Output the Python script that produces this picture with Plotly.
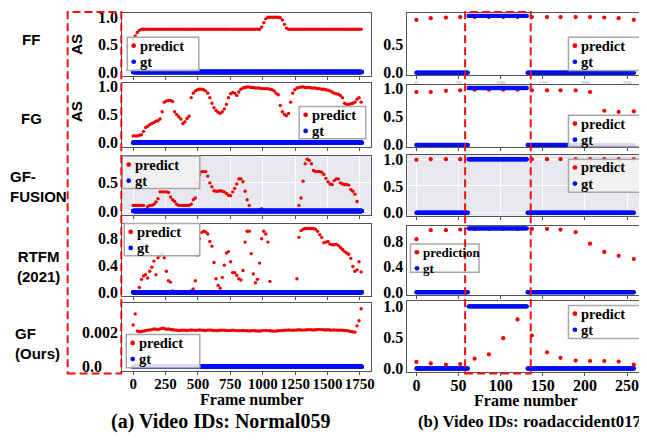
import plotly.graph_objects as go

# page offset of the plot div inside the browser window (default body margin)
OFF = 8
W, H = 647 - OFF, 441 - OFF

# ---------------- data: (a) Normal059 ----------------
FRAMES_A = list(range(0, 1761, 16))          # sampled frame numbers of the predictions
GT_A_LAST_FRAME = 1765

FF_A = [0.60, 0.66, 0.72, 0.76, 0.78, 0.78, 0.78, 0.78, 0.78, 0.78,
        0.78, 0.78, 0.78, 0.78, 0.78, 0.78, 0.78, 0.78, 0.78, 0.78,
        0.78, 0.78, 0.78, 0.78, 0.78, 0.78, 0.78, 0.78, 0.78, 0.78,
        0.78, 0.78, 0.78, 0.78, 0.78, 0.78, 0.78, 0.78, 0.78, 0.78,
        0.78, 0.78, 0.78, 0.78, 0.78, 0.78, 0.78, 0.78, 0.78, 0.78,
        0.78, 0.78, 0.78, 0.78, 0.78, 0.78, 0.78, 0.78, 0.78, 0.78,
        0.78, 0.78, 0.82, 0.90, 0.97, 1.00, 1.00, 1.00, 1.00, 1.00,
        1.00, 0.99, 0.95, 0.87, 0.80, 0.78, 0.78, 0.78, 0.78, 0.78,
        0.78, 0.78, 0.78, 0.78, 0.78, 0.78, 0.78, 0.78, 0.78, 0.78,
        0.78, 0.78, 0.78, 0.78, 0.78, 0.78, 0.78, 0.78, 0.78, 0.78,
        0.78, 0.78, 0.78, 0.78, 0.78, 0.78, 0.78, 0.78, 0.78, 0.78,
        0.78]

FG_A = [0.12, 0.12, 0.12, 0.13, 0.14, 0.20, 0.27, 0.29, 0.32, 0.34,
        0.36, 0.38, 0.39, 0.42, 0.55, 0.72, 0.74, 0.75, 0.75, 0.73,
        0.55, 0.50, 0.46, 0.42, 0.34, 0.37, 0.43, 0.47, 0.80, 0.88,
        0.92, 0.94, 0.95, 0.95, 0.94, 0.92, 0.88, 0.80, 0.70, 0.62,
        0.57, 0.54, 0.52, 0.55, 0.60, 0.68, 0.80, 0.87, 0.89, 0.88,
        0.84, 0.90, 0.95, 0.97, 0.98, 0.99, 0.99, 0.98, 0.98, 0.97,
        0.97, 0.97, 0.96, 0.96, 0.96, 0.96, 0.95, 0.94, 0.92, 0.88,
        0.85, 0.66, 0.55, 0.50, 0.48, 0.52, 0.72, 0.88, 0.94, 0.97,
        0.98, 0.99, 0.99, 0.98, 0.98, 0.98, 0.97, 0.97, 0.97, 0.96,
        0.96, 0.95, 0.95, 0.94, 0.93, 0.92, 0.90, 0.88, 0.87, 0.86,
        0.84, 0.80, 0.70, 0.68, 0.68, 0.69, 0.70, 0.72, 0.77, 0.80,
        0.72]

FUSION_A = [0.10, 0.10, 0.10, 0.10, 0.10, 0.10, 0.03, 0.08, 0.10, 0.10,
            0.12, 0.16, 0.22, 0.34, 0.34, 0.34, 0.34, 0.33, 0.25, 0.20,
            0.17, 0.12, 0.10, 0.10, 0.10, 0.10, 0.10, 0.10, 0.12, 0.20,
            0.23, 0.50, 0.65, 0.70, 0.70, 0.70, 0.62, 0.50, 0.43, 0.36,
            0.35, 0.35, 0.36, 0.35, 0.34, 0.31, 0.28, 0.27, 0.34, 0.40,
            0.48, 0.57, 0.57, 0.52, 0.35, 0.20, 0.10, 0.00, 0.00, 0.00,
            0.00, 0.03, 0.04, 0.02, 0.00, 0.00, 0.00, 0.00, 0.00, 0.00,
            0.00, 0.00, 0.00, 0.00, 0.00, 0.00, 0.00, 0.00, 0.00, 0.00,
            0.10, 0.23, 0.53, 0.84, 0.92, 0.90, 0.84, 0.72, 0.70, 0.70,
            0.70, 0.69, 0.65, 0.58, 0.52, 0.48, 0.47, 0.54, 0.57, 0.57,
            0.50, 0.48, 0.47, 0.47, 0.46, 0.38, 0.35, 0.30, 0.17, 0.00,
            0.00]

RTFM_A = [0.00, 0.00, 0.00, 0.07, 0.19, 0.24, 0.26, 0.21, 0.31, 0.37,
          0.46, 0.26, 0.51, 0.55, 0.57, 0.51, 0.31, 0.17, 0.15, 0.02,
          0.00, 0.00, 0.00, 0.00, 0.00, 0.00, 0.00, 0.00, 0.02, 0.05,
          0.17, 0.55, 0.79, 0.88, 0.90, 0.89, 0.86, 0.75, 0.68, 0.44,
          0.20, 0.10, 0.06, 0.22, 0.40, 0.58, 0.60, 0.45, 0.29, 0.29,
          0.25, 0.20, 0.18, 0.32, 0.74, 0.90, 0.90, 0.57, 0.27, 0.14,
          0.19, 0.43, 0.79, 0.90, 0.86, 0.74, 0.16, 0.00, 0.00, 0.00,
          0.00, 0.00, 0.00, 0.00, 0.00, 0.00, 0.00, 0.00, 0.00, 0.20,
          0.81, 0.91, 0.93, 0.94, 0.94, 0.94, 0.94, 0.94, 0.93, 0.90,
          0.85, 0.81, 0.73, 0.74, 0.75, 0.71, 0.70, 0.70, 0.71, 0.69,
          0.66, 0.63, 0.60, 0.58, 0.56, 0.50, 0.38, 0.31, 0.33, 0.45,
          0.30]

GF_A = [0.00245, 0.00310, 0.00210, 0.00205, 0.00207, 0.00210, 0.00212, 0.00215, 0.00216, 0.00218,
        0.00222, 0.00220, 0.00218, 0.00222, 0.00226, 0.00224, 0.00220, 0.00222, 0.00219, 0.00217,
        0.00216, 0.00214, 0.00213, 0.00214, 0.00215, 0.00214, 0.00213, 0.00215, 0.00216, 0.00215,
        0.00214, 0.00215, 0.00216, 0.00215, 0.00214, 0.00213, 0.00215, 0.00216, 0.00214, 0.00213,
        0.00212, 0.00213, 0.00214, 0.00215, 0.00214, 0.00213, 0.00212, 0.00213, 0.00214, 0.00213,
        0.00212, 0.00211, 0.00212, 0.00213, 0.00212, 0.00211, 0.00210, 0.00211, 0.00212, 0.00211,
        0.00210, 0.00210, 0.00211, 0.00212, 0.00213, 0.00212, 0.00211, 0.00210, 0.00209, 0.00210,
        0.00211, 0.00212, 0.00213, 0.00214, 0.00215, 0.00216, 0.00215, 0.00214, 0.00215, 0.00216,
        0.00217, 0.00216, 0.00215, 0.00216, 0.00217, 0.00218, 0.00217, 0.00216, 0.00217, 0.00218,
        0.00219, 0.00218, 0.00217, 0.00216, 0.00217, 0.00216, 0.00215, 0.00216, 0.00215, 0.00214,
        0.00215, 0.00214, 0.00213, 0.00212, 0.00210, 0.00207, 0.00205, 0.00203, 0.00240, 0.00270,
        0.00340]

# ---------------- data: (b) roadaccident017 ----------------
FRAMES_B = [0, 17, 35, 52, 69, 86, 103, 120, 137, 155, 171, 189, 206, 223, 240, 258]
GT_B_LAST_FRAME = 258
GT_B_ANOMALY = (62, 131)       # first / last anomalous frame

FF_B = [0.93, 0.96, 0.97, 0.98, 0.98, 0.98, 0.98, 0.98, 0.98, 0.98, 0.98, 0.98, 0.98, 0.97, 0.96, 0.93]
FG_B = [0.93, 0.93, 0.95, 0.96, 0.97, 0.97, 0.97, 0.97, 0.96, 0.96, 0.96, 0.96, 0.93, 0.60, 0.58, 0.59]
FUSION_B = [0.99, 1.00, 1.00, 1.00, 1.00, 1.00, 1.00, 1.00, 1.00, 1.00, 1.00, 1.00, 1.00, 1.00, 1.00, 1.00]
RTFM_B = [0.83, 0.97, 0.97, 0.98, 0.99, 0.99, 0.99, 0.99, 0.99, 0.99, 0.98, 0.94, 0.76, 0.63, 0.57, 0.52]
GF_B = [0.105, 0.08, 0.06, 0.07, 0.157, 0.225, 0.487, 0.79, 0.53, 0.26, 0.17, 0.126, 0.12, 0.12, 0.11, 0.06]

ROW_NAMES = ["FF", "FG", "GF-<br>FUSION", "RTFM<br>(2021)", "GF<br>(Ours)"]
XTICKS_A = [0, 250, 500, 750, 1000, 1250, 1500, 1750]
XTICKS_B = [0, 50, 100, 150, 200, 250]
YTICKS_STD = [0.0, 0.5, 1.0]
YTEXT_STD = ["0.0", "0.5", "1.0"]
YTICKS_FUSION_A = [0.0, 0.5]
YTEXT_FUSION_A = ["0.0", "0.5"]
YTICKS_RTFM = [0.0, 0.4, 0.8]
YTEXT_RTFM = ["0.0", "0.4", "0.8"]
YTICKS_GF_A = [0.0, 0.002]
YTEXT_GF_A = ["0.0\u00a0\u00a0\u00a0\u00a0", "0.002"]
LEGEND_PRED_B = ["predict", "predict", "predict", "prediction", "predict"]
CAPTION_A = "(a) Video IDs: Normal059"
CAPTION_B = "(b) Video IDs: roadaccident017"

# ---------------- derived series ----------------
GT_A_X = list(range(0, GT_A_LAST_FRAME + 1))
GT_A_Y = [0 for _ in GT_A_X]
GT_B_X = list(range(0, GT_B_LAST_FRAME + 1))
GT_B_Y = [1 if GT_B_ANOMALY[0] <= f <= GT_B_ANOMALY[1] else 0 for f in GT_B_X]

RED = "#f00000"
BLUE = "#0010f0"
DASH_RED = "#f01010"
SERIF = "Liberation Serif"
SANS = "Liberation Sans"


def X(x):
    """window pixel x -> paper x"""
    return (x - OFF) / W


def Y(y):
    """window pixel y -> paper y"""
    return 1 - (y - OFF) / H


def clamp(v):
    return min(1.0, max(0.0, v))


# panel geometry (window pixels)
panels = [
    # left column
    dict(x=FRAMES_A, y=FF_A, gx=GT_A_X, gy=GT_A_Y, l=123, r=373, t=8, b=73, xr=[-84, 1834],
         yr=[-0.08, 1.077], yt=YTICKS_STD, ytt=YTEXT_STD, xt=XTICKS_A, gray=False, ms=3.4, bottom=False,
         leg=(128, 33, 200, 67), pred="predict"),
    dict(x=FRAMES_A, y=FG_A, gx=GT_A_X, gy=GT_A_Y, l=123, r=373, t=80, b=145, xr=[-84, 1834],
         yr=[-0.069, 1.057], yt=YTICKS_STD, ytt=YTEXT_STD, xt=XTICKS_A, gray=False, ms=3.4, bottom=False,
         leg=(301, 104, 368, 137), pred="predict"),
    dict(x=FRAMES_A, y=FUSION_A, gx=GT_A_X, gy=GT_A_Y, l=123, r=373, t=155, b=215, xr=[-84, 1834],
         yr=[-0.066, 0.972], yt=YTICKS_FUSION_A, ytt=YTEXT_FUSION_A, xt=XTICKS_A, gray=True, ms=3.4, bottom=False,
         leg=(123, 155, 201, 188), pred="predict"),
    dict(x=FRAMES_A, y=RTFM_A, gx=GT_A_X, gy=GT_A_Y, l=123, r=373, t=225, b=298, xr=[-84, 1834],
         yr=[-0.05, 1.0], yt=YTICKS_RTFM, ytt=YTEXT_RTFM, xt=XTICKS_A, gray=False, ms=3.4, bottom=False,
         leg=(125, 224, 201, 257), pred="predict"),
    dict(x=FRAMES_A, y=GF_A, gx=GT_A_X, gy=GT_A_Y, l=123, r=373, t=306, b=375, xr=[-84, 1834],
         yr=[-0.000229, 0.003714], yt=YTICKS_GF_A, ytt=YTEXT_GF_A, xt=XTICKS_A, gray=False, ms=3.4, bottom=True,
         leg=(127, 338, 201, 372), pred="predict"),
    # right column
    dict(x=FRAMES_B, y=FF_B, gx=GT_B_X, gy=GT_B_Y, l=410, r=646, t=8, b=72, xr=[-10.6, 267.7],
         yr=[-0.048, 1.051], yt=YTICKS_STD, ytt=YTEXT_STD, xt=XTICKS_B, gray=False, ms=4.2, bottom=False,
         leg=(572, 33, 646, 67), pred=LEGEND_PRED_B[0], faint=True),
    dict(x=FRAMES_B, y=FG_B, gx=GT_B_X, gy=GT_B_Y, l=410, r=646, t=82, b=146, xr=[-10.6, 267.7],
         yr=[-0.046, 1.051], yt=YTICKS_STD, ytt=YTEXT_STD, xt=XTICKS_B, gray=False, ms=4.2, bottom=False,
         leg=(572, 113, 646, 145), pred=LEGEND_PRED_B[1]),
    dict(x=FRAMES_B, y=FUSION_B, gx=GT_B_X, gy=GT_B_Y, l=410, r=646, t=154, b=216, xr=[-10.6, 267.7],
         yr=[-0.055, 1.073], yt=YTICKS_STD, ytt=YTEXT_STD, xt=XTICKS_B, gray=True, ms=4.2, bottom=False,
         leg=(572, 158, 646, 192), pred=LEGEND_PRED_B[2]),
    dict(x=FRAMES_B, y=RTFM_B, gx=GT_B_X, gy=GT_B_Y, l=410, r=646, t=227, b=297, xr=[-10.6, 267.7],
         yr=[-0.038, 1.029], yt=YTICKS_RTFM, ytt=YTEXT_RTFM, xt=XTICKS_B, gray=False, ms=4.2, bottom=False,
         leg=(413, 245, 482, 274), pred=LEGEND_PRED_B[3]),
    dict(x=FRAMES_B, y=GF_B, gx=GT_B_X, gy=GT_B_Y, l=410, r=646, t=303, b=376, xr=[-10.6, 267.7],
         yr=[-0.052, 1.094], yt=YTICKS_STD, ytt=YTEXT_STD, xt=XTICKS_B, gray=False, ms=4.2, bottom=True,
         leg=(572, 308, 646, 342), pred=LEGEND_PRED_B[4]),
]

fig = go.Figure()
layout = dict(width=W, height=H, margin=dict(l=0, r=0, t=0, b=0, pad=0),
              paper_bgcolor="white", plot_bgcolor="rgba(0,0,0,0)", showlegend=False)
shapes = []
annotations = []

for k, p in enumerate(panels, start=1):
    sfx = "" if k == 1 else str(k)
    xa, ya = "x" + sfx, "y" + sfx
    fig.add_trace(go.Scatter(x=p["x"], y=p["y"], mode="markers", xaxis=xa, yaxis=ya,
                             marker=dict(color=RED, size=p["ms"], line=dict(width=0)),
                             hoverinfo="skip", showlegend=False))
    fig.add_trace(go.Scatter(x=p["gx"], y=p["gy"], mode="markers", xaxis=xa, yaxis=ya,
                             marker=dict(color=BLUE, size=4.4, line=dict(width=0)),
                             hoverinfo="skip", showlegend=False))
    left = p["l"] < 300
    faint = p.get("faint", False)
    if p["bottom"]:
        xfont = dict(family=SERIF, size=15 if left else 16, color="black", weight="bold")
    else:
        xfont = dict(family=SERIF, size=6, color="#9a9a9a")
    layout["xaxis" + sfx] = dict(
        domain=[clamp(X(p["l"])), clamp(X(p["r"]))], range=p["xr"], anchor=ya,
        showline=True, mirror=True, linecolor="#555", linewidth=1,
        ticks="outside", ticklen=3, tickcolor="#555", tickvals=p["xt"],
        showticklabels=p["bottom"] or faint, ticklabelstandoff=-4 if p["bottom"] else -2,
        tickfont=xfont,
        showgrid=p["gray"], gridcolor="white", gridwidth=1, zeroline=False, fixedrange=True)
    layout["yaxis" + sfx] = dict(
        domain=[clamp(Y(p["b"])), clamp(Y(p["t"]))], range=p["yr"], anchor=xa,
        showline=True, mirror=True, linecolor="#555", linewidth=1,
        ticks="", tickvals=p["yt"], ticktext=p["ytt"],
        tickfont=dict(family=SERIF, size=16, color="black", weight="bold"),
        showgrid=p["gray"], gridcolor="white", gridwidth=1, zeroline=False, fixedrange=True)
    if p["gray"]:
        shapes.append(dict(type="rect", xref=xa + " domain", yref=ya + " domain",
                           x0=0, x1=1, y0=0, y1=1, fillcolor="#e7e7ef",
                           line=dict(width=0), layer="below"))
    # legend box
    x0, y0, x1, y1 = p["leg"]
    shapes.append(dict(type="rect", xref="paper", yref="paper",
                       x0=X(x0), x1=X(x1), y0=Y(y1), y1=Y(y0),
                       fillcolor="rgba(242,242,242,0.9)" if p["gray"] else "rgba(255,255,255,0.85)",
                       line=dict(color="#a8a8a8", width=1.5), layer="above"))
    fsz = 13 if p["pred"] == "prediction" else 14.5
    for j, (lab, col) in enumerate([(p["pred"], RED), ("gt", BLUE)]):
        cy = y0 + 8.5 + j * 16.5
        cx = x0 + 6.5
        shapes.append(dict(type="circle", xref="paper", yref="paper",
                           x0=X(cx - 2.4), x1=X(cx + 2.4), y0=Y(cy + 2.4), y1=Y(cy - 2.4),
                           fillcolor=col, line=dict(width=0), layer="above"))
        annotations.append(dict(text="<b>%s</b>" % lab, x=X(cx + 4.5), y=Y(cy), xref="paper", yref="paper",
                                xanchor="left", yanchor="middle", showarrow=False,
                                font=dict(family=SERIF, size=fsz, color="black")))

# row labels
row_pos = [(31, 35, "center"), (31.5, 116, "center"), (8, 186.5, "left"), (39, 268, "center"), (13, 347, "left")]
for name, (rx, ry, al) in zip(ROW_NAMES, row_pos):
    annotations.append(dict(text="<b>%s</b>" % name, x=X(rx), y=Y(ry), xref="paper", yref="paper",
                            xanchor=al, yanchor="middle", align=al, showarrow=False,
                            font=dict(family=SANS, size=15, color="black")))
for ay in (40, 109):
    annotations.append(dict(text="<b>AS</b>", x=X(77), y=Y(ay), xref="paper", yref="paper",
                            textangle=-90, xanchor="center", yanchor="middle", showarrow=False,
                            font=dict(family=SANS, size=15, color="black")))

# axis titles and captions
annotations.append(dict(text="<b>Frame number</b>", x=X(254), y=Y(405), xref="paper", yref="paper",
                        xanchor="center", yanchor="middle", showarrow=False,
                        font=dict(family=SERIF, size=16, color="black")))
annotations.append(dict(text="<b>Frame number</b>", x=X(529), y=Y(406), xref="paper", yref="paper",
                        xanchor="center", yanchor="middle", showarrow=False,
                        font=dict(family=SERIF, size=16, color="black")))
annotations.append(dict(text="<b>%s</b>" % CAPTION_A, x=X(222), y=Y(427), xref="paper", yref="paper",
                        xanchor="center", yanchor="middle", showarrow=False,
                        font=dict(family=SERIF, size=20, color="black")))
annotations.append(dict(text="<b>%s</b>" % CAPTION_B, x=X(419), y=Y(427), xref="paper", yref="paper",
                        xanchor="left", yanchor="middle", showarrow=False,
                        font=dict(family=SERIF, size=16.8, color="black")))

# red dashed highlight boxes
for (bx0, by0, bx1, by1) in [(68, 7, 122, 378), (468, 7, 534, 378)]:
    shapes.append(dict(type="rect", xref="paper", yref="paper",
                       x0=X(bx0), x1=X(bx1), y0=Y(by1), y1=Y(by0),
                       line=dict(color=DASH_RED, width=2, dash="8px,4px"),
                       fillcolor="rgba(0,0,0,0)", layer="above"))

layout["shapes"] = shapes
layout["annotations"] = annotations
fig.update_layout(**layout)
fig.write_html("out.html")
